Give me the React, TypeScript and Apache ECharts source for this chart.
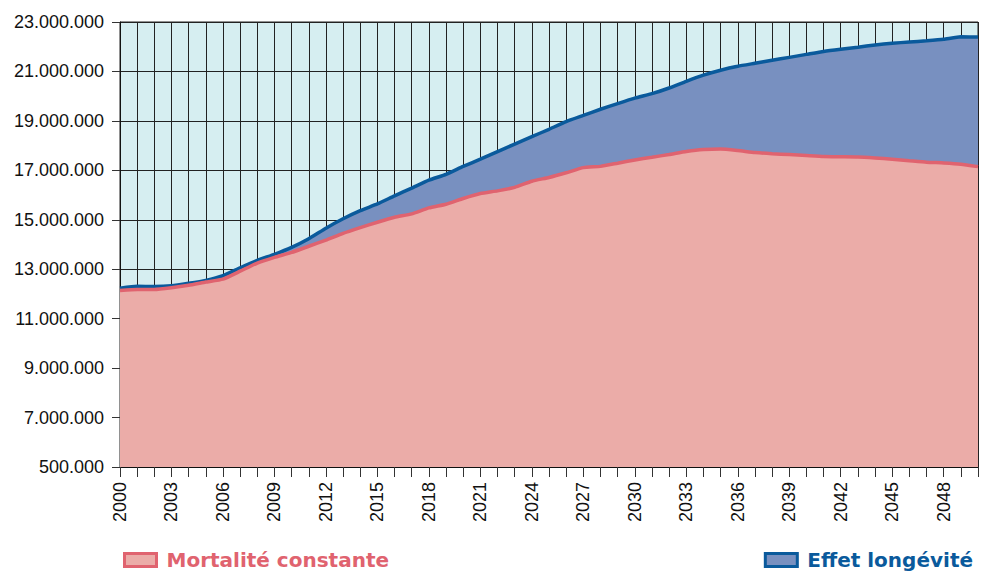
import React, { useEffect, useRef } from "react";
import * as echarts from "echarts";

const years: string[] = [
  "2000", "2001", "2002", "2003", "2004", "2005", "2006", "2007", "2008", "2009",
  "2010", "2011", "2012", "2013", "2014", "2015", "2016", "2017", "2018", "2019",
  "2020", "2021", "2022", "2023", "2024", "2025", "2026", "2027", "2028", "2029",
  "2030", "2031", "2032", "2033", "2034", "2035", "2036", "2037", "2038", "2039",
  "2040", "2041", "2042", "2043", "2044", "2045", "2046", "2047", "2048", "2049",
  "2050",
];

// Population with constant mortality
const mortaliteConstante: number[] = [
  12140000, 12180000, 12180000, 12250000, 12350000, 12480000, 12600000, 12920000, 13250000, 13480000,
  13680000, 13930000, 14180000, 14450000, 14680000, 14900000, 15100000, 15240000, 15480000, 15630000,
  15860000, 16060000, 16170000, 16310000, 16560000, 16710000, 16900000, 17110000, 17160000, 17290000,
  17420000, 17530000, 17640000, 17760000, 17840000, 17860000, 17800000, 17720000, 17670000, 17640000,
  17600000, 17560000, 17550000, 17540000, 17500000, 17450000, 17390000, 17330000, 17300000, 17250000,
  17150000,
];

// Population including the longevity effect (upper boundary)
const effetLongevite: number[] = [
  12230000, 12310000, 12300000, 12330000, 12430000, 12550000, 12740000, 13060000, 13360000, 13600000,
  13880000, 14230000, 14660000, 15040000, 15370000, 15640000, 15970000, 16280000, 16600000, 16840000,
  17160000, 17450000, 17760000, 18060000, 18360000, 18660000, 18970000, 19220000, 19470000, 19700000,
  19920000, 20100000, 20330000, 20600000, 20850000, 21050000, 21210000, 21330000, 21450000, 21570000,
  21690000, 21810000, 21900000, 21980000, 22070000, 22140000, 22190000, 22240000, 22300000, 22400000,
  22390000,
];

const yTickLabels: string[] = [
  "500.000", "7.000.000", "9.000.000", "11.000.000", "13.000.000",
  "15.000.000", "17.000.000", "19.000.000", "21.000.000", "23.000.000",
];
const yMin = 5000000;
const yMax = 23000000;
const yStep = 2000000;

const PINK_FILL = "#ebaca8";
const PINK_LINE = "#e0636f";
const BLUE_FILL = "#7890c0";
const BLUE_LINE = "#0a5a9c";

export default function App() {
  const ref = useRef<HTMLDivElement>(null);

  useEffect(() => {
    if (!ref.current) return;
    const chart = echarts.init(ref.current, undefined, { renderer: "svg" });
    const legendText = {
      fontFamily: "DejaVu Sans",
      fontWeight: "bold" as const,
      fontSize: 20,
      padding: [0, 0, 0, 5],
    };
    chart.setOption({
      animation: false,
      backgroundColor: "#ffffff",
      grid: {
        left: 120,
        right: 3,
        top: 22,
        bottom: 109,
        show: true,
        backgroundColor: "#d6eef1",
        borderColor: "#222222",
        borderWidth: 1,
      },
      legend: [
        {
          data: [
            {
              name: "Mortalité constante",
              icon: "rect",
              itemStyle: { color: PINK_FILL, borderColor: PINK_LINE, borderWidth: 3 },
            },
          ],
          left: 118,
          top: 545,
          itemWidth: 32,
          itemHeight: 13,
          textStyle: { ...legendText, color: PINK_LINE },
        },
        {
          data: [
            {
              name: "Effet longévité",
              icon: "rect",
              itemStyle: { color: BLUE_FILL, borderColor: BLUE_LINE, borderWidth: 3 },
            },
          ],
          right: 3,
          top: 545,
          itemWidth: 32,
          itemHeight: 13,
          textStyle: { ...legendText, color: BLUE_LINE },
        },
      ],
      xAxis: {
        type: "category",
        data: years,
        boundaryGap: false,
        axisLine: { show: true, lineStyle: { color: "#111111", width: 1 } },
        axisTick: { show: true, interval: 0, length: 10, lineStyle: { color: "#333333" } },
        axisLabel: {
          interval: 2,
          rotate: 90,
          margin: 15,
          fontSize: 18,
          fontFamily: "Liberation Sans",
          color: "#111111",
        },
        splitLine: { show: true, interval: 0, lineStyle: { color: "#222222", width: 1 } },
      },
      yAxis: {
        type: "value",
        min: yMin,
        max: yMax,
        interval: yStep,
        axisLine: { show: true, lineStyle: { color: "#111111", width: 1 } },
        axisTick: { show: true, length: 8, lineStyle: { color: "#333333" } },
        axisLabel: {
          margin: 16,
          fontSize: 18,
          fontFamily: "Liberation Sans",
          color: "#111111",
          formatter: (v: number) => {
            const i = Math.round((v - yMin) / yStep);
            return yTickLabels[i] ?? "";
          },
        },
        splitLine: { show: true, lineStyle: { color: "#222222", width: 1 } },
      },
      series: [
        {
          name: "Effet longévité",
          type: "line",
          data: effetLongevite,
          symbol: "none",
          smooth: 0.15,
          itemStyle: { color: BLUE_LINE },
          lineStyle: { color: BLUE_LINE, width: 3.5 },
          areaStyle: { color: BLUE_FILL, opacity: 1, origin: "start" },
          z: 2,
        },
        {
          name: "Mortalité constante",
          type: "line",
          data: mortaliteConstante,
          symbol: "none",
          smooth: 0.15,
          itemStyle: { color: PINK_LINE },
          lineStyle: { color: PINK_LINE, width: 3.5 },
          areaStyle: { color: PINK_FILL, opacity: 1, origin: "start" },
          z: 3,
        },
      ],
    });
    return () => chart.dispose();
  }, []);

  return (
    <div
      ref={ref}
      style={{ position: "fixed", left: 0, top: 0, width: 981, height: 576 }}
    />
  );
}
